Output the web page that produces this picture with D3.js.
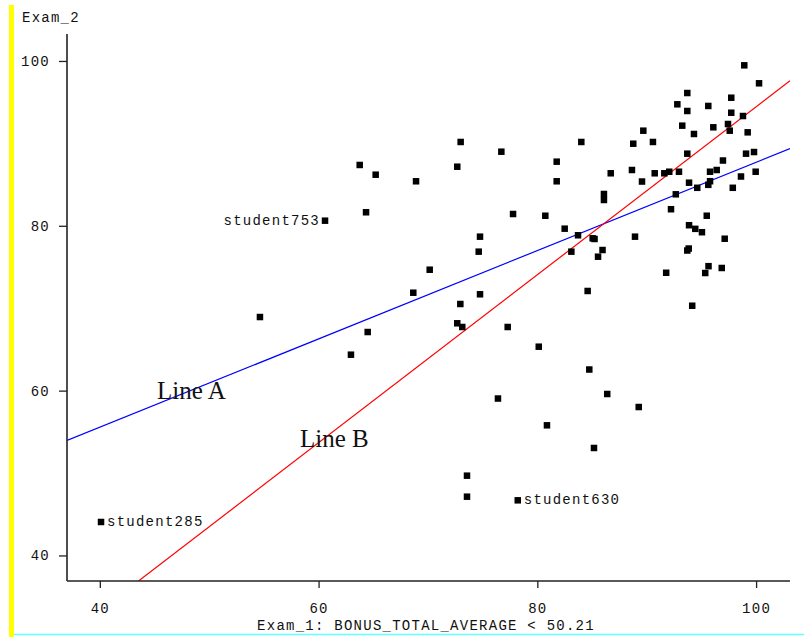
<!DOCTYPE html>
<html>
<head>
<meta charset="utf-8">
<script src="https://cdn.jsdelivr.net/npm/d3@7"></script>
<style>
  html, body { margin: 0; padding: 0; background: #fff; }
  svg { display: block; }
  .mono { font-family: "Liberation Mono", "DejaVu Sans Mono", monospace; font-size: 14px; letter-spacing: 1.25px; fill: #111; }
  .serif { font-family: "Liberation Serif", "DejaVu Serif", serif; font-size: 25px; fill: #111; }
</style>
</head>
<body>
<svg id="chart" width="804" height="637"></svg>
<script>
// ---- data ----
const exam1 = [98.92,100.27,93.71,97.73,92.80,95.63,93.71,97.73,98.80,93.25,96.09,97.43,97.59,89.69,94.32,99.23,
  88.77,90.57,93.71,99.08,99.81,96.97,86.71,88.65,90.73,91.61,92.06,92.95,95.79,96.40,98.62,99.96,89.57,93.87,
  94.62,95.63,95.79,97.87,86.09,86.09,92.66,92.22,95.49,93.87,94.44,95.05,88.93,97.13,85.96,85.55,93.84,93.71,
  95.65,95.35,96.86,91.78,94.16,84.02,81.77,81.77,72.99,76.71,72.68,68.91,77.78,80.73,82.50,74.76,83.72,85.06,
  85.23,74.64,83.11,70.16,68.66,74.76,72.96,84.60,72.68,73.14,77.29,80.13,84.75,76.40,86.39,89.27,80.88,85.18,
  73.57,73.57,78.21,63.76,65.22,64.34,60.59,54.64,64.49,62.96,40.11];
const exam2 = [99.47,97.29,96.11,95.54,94.74,94.54,93.93,93.72,93.32,92.15,91.95,92.35,91.54,91.54,91.14,91.34,
  89.96,90.17,88.75,88.75,88.95,87.92,86.37,86.77,86.37,86.37,86.56,86.56,86.56,86.77,85.98,86.56,85.37,85.23,
  84.61,84.97,85.41,84.61,83.86,83.13,83.82,82.01,81.22,80.07,79.63,79.22,78.68,78.43,77.06,76.25,77.24,77.00,
  75.10,74.27,74.88,74.30,70.30,90.17,87.78,85.40,90.17,88.99,87.17,85.40,81.43,81.22,79.65,78.68,78.85,78.48,
  78.40,76.86,76.86,74.67,71.88,71.69,70.51,72.09,68.17,67.72,67.72,65.33,62.56,59.04,59.59,58.01,55.79,53.04,
  49.68,47.13,46.69,87.38,86.20,81.64,80.62,68.93,67.11,64.36,44.06];

const labelNames = ["student753", "student285", "student630"];
const labelX = [60.59, 40.11, 78.21];
const labelY = [80.62, 44.06, 46.69];
const labelSide = ["left", "right", "right"];

const lineNames = ["Line A", "Line B"];
const lineColors = ["#0000ff", "#ff0000"];
const lineX = [[37, 103.1], [43.54, 103.1]];
const lineY = [[53.95, 89.37], [36.9, 97.6]];
const lineLabelX = [45.23, 58.30];
const lineLabelY = [58.98, 53.16];

const xTicks = [40, 60, 80, 100];
const yTicks = [40, 60, 80, 100];
const xTitle = "Exam_1: BONUS_TOTAL_AVERAGE < 50.21";
const yTitle = "Exam_2";

// ---- drawing ----
const svg = d3.select("#chart");
const x = d3.scaleLinear().domain([37, 103.1]).range([67, 790]);
const y = d3.scaleLinear().domain([36.9, 103.15]).range([581, 35]);

// frame decorations
svg.append("rect").attr("x", 9).attr("y", 5).attr("width", 5).attr("height", 632).attr("fill", "#ffff00");
svg.append("line").attr("x1", 14).attr("x2", 804).attr("y1", 634.5).attr("y2", 634.5)
  .attr("stroke", "#66ffff").attr("stroke-width", 1.5);

svg.append("clipPath").attr("id", "plotClip").append("rect")
  .attr("x", 67).attr("y", 35).attr("width", 723).attr("height", 546);

// regression lines
const lineGen = d3.line().x(d => x(d[0])).y(d => y(d[1]));
const lg = svg.append("g").attr("clip-path", "url(#plotClip)");
lineNames.forEach((n, i) => {
  lg.append("path")
    .attr("d", lineGen(lineX[i].map((v, j) => [v, lineY[i][j]])))
    .attr("fill", "none").attr("stroke", lineColors[i]).attr("stroke-width", 1.2);
});

// points
svg.append("g").selectAll("rect").data(exam1.map((v, i) => [v, exam2[i]])).join("rect")
  .attr("x", d => x(d[0]) - 3.25).attr("y", d => y(d[1]) - 3.25)
  .attr("width", 6.5).attr("height", 6.5).attr("fill", "#000");

// axes
const xAxis = svg.append("g").attr("transform", "translate(0,581)")
  .call(d3.axisBottom(x).tickValues(xTicks).tickSize(7).tickPadding(15).tickSizeOuter(0));
const yAxis = svg.append("g").attr("transform", "translate(67,0)")
  .call(d3.axisLeft(y).tickValues(yTicks).tickSize(8).tickPadding(9).tickSizeOuter(0));
[xAxis, yAxis].forEach(a => {
  a.select(".domain").attr("stroke", "#222").attr("stroke-width", 1.6);
  a.selectAll(".tick line").attr("stroke", "#222").attr("stroke-width", 1.3);
  a.selectAll(".tick text").attr("class", "mono").attr("fill", "#111");
});
xAxis.select(".domain").attr("d", `M${67},0H${790}`);
yAxis.select(".domain").attr("d", `M0,${34}V${581}`);

// axis titles
svg.append("text").attr("class", "mono").attr("x", 426).attr("y", 630)
  .attr("text-anchor", "middle").text(xTitle);
svg.append("text").attr("class", "mono").attr("x", 22).attr("y", 22).text(yTitle);

// point labels
labelNames.forEach((n, i) => {
  const left = labelSide[i] === "left";
  svg.append("text").attr("class", "mono")
    .attr("x", x(labelX[i]) + (left ? -5 : 6))
    .attr("y", y(labelY[i]) + 4)
    .attr("text-anchor", left ? "end" : "start")
    .text(n);
});

// line labels
lineNames.forEach((n, i) => {
  svg.append("text").attr("class", "serif")
    .attr("x", x(lineLabelX[i])).attr("y", y(lineLabelY[i])).text(n);
});
</script>
</body>
</html>
